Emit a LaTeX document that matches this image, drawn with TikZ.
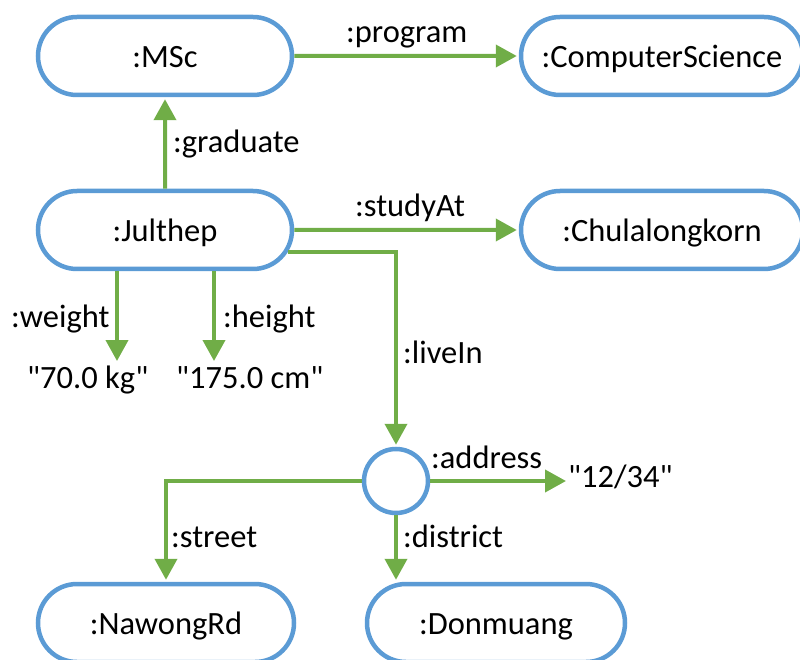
\documentclass[tikz,border=0pt]{standalone}
\usepackage{fontspec}
% no TeX ligature mapping, so " stays a straight double quote
\setmainfont{Carlito}[Ligatures=TeXOff]
\usetikzlibrary{arrows.meta,shapes.misc}
\definecolor{nodeblue}{HTML}{5B9BD5}
\definecolor{linkgreen}{HTML}{70AD47}
\begin{document}
\begin{tikzpicture}[x=1pt,y=-1pt,
  resource/.style={rounded rectangle, draw=nodeblue, line width=4.5pt, fill=white,
    minimum height=78pt, text height=23pt, text depth=0pt, inner sep=0pt,
    font=\fontsize{32.5}{38}\selectfont},
  blank/.style={circle, draw=nodeblue, line width=4.5pt, fill=white,
    minimum size=64pt, inner sep=0pt},
  link/.style={draw=linkgreen, line width=4pt, shorten >=2pt,
    -{Triangle[length=21pt,width=22pt]}},
  lbl/.style={anchor=base west, inner sep=0pt, font=\fontsize{32.5}{38}\selectfont},
]
\useasboundingbox (0,0) rectangle (800,660);
\clip (0,0) rectangle (800,660);

% resources
\node[resource, minimum width=254pt] (msc) at (165,56) {:MSc};
\node[resource, minimum width=282pt] (cs) at (662,56) {:ComputerScience};
\node[resource, minimum width=254pt] (j) at (165,230) {:Julthep};
\node[resource, minimum width=282pt] (chula) at (662,230) {:Chulalongkorn};
\node[blank] (bn) at (396,481) {};
\node[resource, minimum width=256pt] (nr) at (166,623) {:NawongRd};
\node[resource, minimum width=258pt] (dm) at (496,623) {:Donmuang};

% literals
\node[lbl] (wv) at (27,388) {"70.0 kg"};
\node[lbl] (hv) at (176,388) {"175.0 cm"};
\node[lbl] (addr) at (568,487) {"12/34"};

% arrow ends above the literals
\coordinate (wtip) at (117,363);
\coordinate (htip) at (214,363);

% properties
\draw[link] (msc) -- (cs);
\draw[link] (j) -- (msc);
\draw[link] (j) -- (chula);
\draw[link] (j.-10.4) -| (bn.north);
\draw[link] (j.south -| wtip) -- (wtip);
\draw[link] (j.south -| htip) -- (htip);
\draw[link] (bn.east) -- (bn.east -| addr.west);
\draw[link] (bn.west) -| (nr.north);
\draw[link] (bn.south) -- (bn.south |- dm.north);

% property labels
\node[lbl] at (346,43) {:program};
\node[lbl] at (173,153) {:graduate};
\node[lbl] at (355,217) {:studyAt};
\node[lbl] at (403,363) {:liveIn};
\node[lbl] at (11,327) {:weight};
\node[lbl] at (223,327) {:height};
\node[lbl] at (431,468) {:address};
\node[lbl] at (171,547) {:street};
\node[lbl] at (403,547) {:district};
\end{tikzpicture}
\end{document}
